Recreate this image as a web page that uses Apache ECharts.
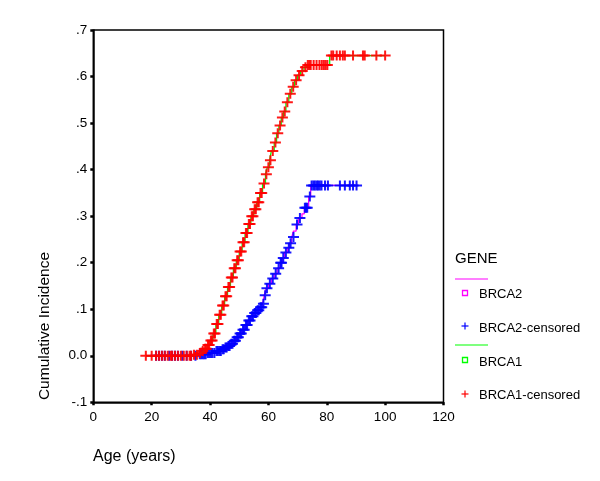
<!DOCTYPE html>
<html>
<head>
<meta charset="utf-8">
<script src="https://cdn.jsdelivr.net/npm/echarts@6/dist/echarts.min.js"></script>
<style>html,body{margin:0;padding:0;background:#fff;}#c{width:600px;height:481px;}</style>
</head>
<body>
<div id="c"></div>
<script>
// Axis ticks
var xTicks = [0, 20, 40, 60, 80, 100, 120];
var yTicks = [-0.1, 0, 0.1, 0.2, 0.3, 0.4, 0.5, 0.6, 0.7];

// BRCA2 cumulative incidence step curve [age, value]
var brca2Curve = [[22,0],[36,0.003],[39,0.006],[42,0.01],[44,0.014],[45,0.018],[46,0.021],[47,0.026],[48,0.032],[49,0.04],[50,0.048],[51,0.056],[52,0.066],[53,0.076],[54,0.085],[55,0.092],[56,0.098],[57,0.104],[58,0.112],[58.6,0.13],[59.2,0.145],[60,0.155],[61,0.166],[62,0.176],[63,0.188],[64,0.2],[64.8,0.21],[65.5,0.222],[66.5,0.232],[67.2,0.242],[68,0.255],[68.6,0.268],[69.5,0.282],[70.3,0.296],[71.5,0.305],[72.3,0.318],[73.8,0.342],[74.5,0.366],[90.2,0.366]];

// BRCA2 censored observations [age, value]
var brca2Censored = [[21.5,0],[22.5,0],[23.5,0],[24.5,0],[26,0],[27,0],[28,0],[29,0],[30.5,0],[32,0],[33.5,0],[35,0],
[36.5,0.003],[37,0.003],[37.5,0.003],[38,0.003],[38.5,0.003],[39.2,0.006],[39.7,0.006],[40.3,0.006],[40.8,0.006],[41.5,0.006],[42.2,0.01],[42.7,0.01],[43.3,0.01],[43.7,0.01],[44.3,0.014],[44.7,0.014],[45.3,0.018],[45.7,0.018],[46.3,0.021],[46.7,0.021],[47.3,0.026],[47.7,0.026],[48.3,0.032],[48.7,0.032],[49.3,0.04],[49.7,0.04],[50.3,0.048],[50.7,0.048],[51.3,0.056],[51.7,0.056],[52.3,0.066],[52.7,0.066],[53.3,0.076],[53.7,0.076],[54.3,0.085],[54.7,0.085],[55.3,0.092],[55.7,0.092],[56.3,0.098],[56.7,0.098],[57.3,0.104],[57.7,0.104],[58.3,0.112],[58.9,0.13],[59.5,0.145],[60.5,0.155],[61.5,0.166],[62.5,0.176],[63.5,0.188],[64.2,0.2],[64.5,0.2],[65.1,0.21],[66,0.222],[67,0.232],[67.6,0.242],[68.6,0.255],[69.8,0.282],[70.8,0.296],[72.5,0.318],[72.9,0.318],[73.3,0.318],[74.2,0.342],
[74.8,0.366],[75.4,0.366],[75.9,0.366],[76.5,0.366],[77,0.366],[77.6,0.366],[78.2,0.366],[79.4,0.366],[80.4,0.366],[84.5,0.366],[86.2,0.366],[87.9,0.366],[89,0.366],[90.2,0.366]];

// BRCA1 cumulative incidence step curve [age, value]
var brca1Curve = [[18,0],[34,0.002],[36,0.006],[37,0.01],[38,0.015],[39,0.023],[40,0.033],[41,0.048],[42,0.068],[43,0.088],[44,0.108],[45,0.128],[46,0.148],[47,0.168],[48,0.188],[49,0.205],[50,0.224],[51,0.244],[52,0.264],[53,0.283],[54,0.3],[55,0.315],[56,0.33],[57,0.35],[58,0.37],[59,0.39],[59.6,0.405],[60.4,0.42],[61,0.44],[62,0.458],[62.8,0.478],[63.6,0.495],[64.4,0.512],[65.2,0.525],[66,0.545],[67,0.563],[68,0.578],[69,0.592],[70,0.603],[71,0.612],[72.2,0.62],[73.2,0.625],[81,0.645],[100,0.645]];

// BRCA1 censored observations [age, value]
var brca1Censored = [[18,0],[20,0],[21.5,0],[22.5,0],[23.5,0],[24.5,0],[25.5,0],[26.5,0],[27,0],[28,0],[29,0],[30,0],[31,0],[32,0],[33,0],[33.5,0],
[34.5,0.002],[35.5,0.002],[36.5,0.006],[37.5,0.01],[38.3,0.015],[38.7,0.015],[39.3,0.023],[39.7,0.023],[40.3,0.033],[40.7,0.033],[41.3,0.048],[41.7,0.048],[42.3,0.068],[42.7,0.068],[43.3,0.088],[43.7,0.088],[44.3,0.108],[44.7,0.108],[45.3,0.128],[45.7,0.128],[46.3,0.148],[46.7,0.148],[47.3,0.168],[47.7,0.168],[48.3,0.188],[48.7,0.188],[49.3,0.205],[49.7,0.205],[50.3,0.224],[50.7,0.224],[51.3,0.244],[51.7,0.244],[52.3,0.264],[52.7,0.264],[53.3,0.283],[53.7,0.283],[54.3,0.3],[54.7,0.3],[55.3,0.315],[55.7,0.315],[56.3,0.33],[56.7,0.33],[57.3,0.35],[57.7,0.35],[58.5,0.37],[59.3,0.39],[60,0.405],[60.7,0.42],[61.5,0.44],[62.4,0.458],[63.2,0.478],[64,0.495],[64.8,0.512],[65.6,0.525],[66.5,0.545],[67.5,0.563],[68.5,0.578],[69.5,0.592],[70.5,0.603],[71.6,0.612],[72.7,0.62],
[73.5,0.625],[74,0.625],[74.5,0.625],[75.5,0.625],[76.5,0.625],[77.5,0.625],[78.3,0.625],[79,0.625],[79.6,0.625],[80.2,0.625],
[81.6,0.645],[82.2,0.645],[83.4,0.645],[84.5,0.645],[85.5,0.645],[86.2,0.645],[89,0.645],[92.4,0.645],[93,0.645],[97,0.645],[100,0.645]];

var legendTitle = 'GENE';
var legendNames = ['BRCA2', 'BRCA2-censored', 'BRCA1', 'BRCA1-censored'];

var plusPath = 'path://M0,4H11V6H0ZM4.5,0H6.5V10H4.5Z';
var FONT = '"Liberation Sans", Arial, sans-serif';

var chart = echarts.init(document.getElementById('c'), null, {renderer: 'canvas'});

function yFmt(v) {
  var r = Math.round(v * 10) / 10;
  if (r === 0) return '0.0';
  return r.toFixed(1).replace('0.', '.');
}

chart.setOption({
  animation: false,
  backgroundColor: '#fff',
  grid: {left: 93.3, right: 156.5, top: 30, bottom: 78.7, show: true, borderColor: '#000', borderWidth: 1.5, backgroundColor: 'transparent'},
  xAxis: {
    type: 'value', min: xTicks[0], max: xTicks[xTicks.length - 1], interval: 20,
    axisLine: {show: true, onZero: false, lineStyle: {color: '#000', width: 1.5}},
    axisTick: {show: true, length: 3, lineStyle: {color: '#000', width: 2.5}},
    axisLabel: {color: '#000', fontSize: 13.5, fontFamily: FONT, margin: 8},
    splitLine: {show: false}
  },
  yAxis: {
    type: 'value', min: yTicks[0], max: yTicks[yTicks.length - 1], interval: 0.1,
    axisLine: {show: true, onZero: false, lineStyle: {color: '#000', width: 1.5}},
    axisTick: {show: true, length: 3, lineStyle: {color: '#000', width: 2.5}},
    axisLabel: {color: '#000', fontSize: 13.5, fontFamily: FONT, margin: 6, formatter: yFmt},
    splitLine: {show: false}
  },
  series: [
    {type: 'line', name: legendNames[0], data: brca2Curve, step: 'end', showSymbol: false, lineStyle: {color: '#ff00ff', width: 1.3}, z: 2},
    {type: 'scatter', name: legendNames[1], data: brca2Censored, symbol: plusPath, symbolSize: [11, 10], itemStyle: {color: '#0000ff', opacity: 0.9}, z: 3},
    {type: 'line', name: legendNames[2], data: brca1Curve, step: 'end', showSymbol: false, lineStyle: {color: '#00ff00', width: 1.3}, z: 4},
    {type: 'scatter', name: legendNames[3], data: brca1Censored, symbol: plusPath, symbolSize: [11, 10], itemStyle: {color: '#ff0000', opacity: 0.9}, z: 5}
  ],
  graphic: [
    {type: 'text', left: 455, top: 251, style: {text: legendTitle, fontSize: 15, fontFamily: FONT, fill: '#000'}},
    {type: 'line', shape: {x1: 455, y1: 279, x2: 488, y2: 279}, style: {stroke: '#ff00ff', lineWidth: 1.2}},
    {type: 'rect', shape: {x: 462.5, y: 290.5, width: 5, height: 5}, style: {stroke: '#ff00ff', fill: 'none', lineWidth: 1.3}},
    {type: 'text', left: 479, top: 288, style: {text: legendNames[0], fontSize: 13, fontFamily: FONT, fill: '#000'}},
    {type: 'line', shape: {x1: 461.5, y1: 326, x2: 468.5, y2: 326}, style: {stroke: '#0000ff', lineWidth: 1.2}},
    {type: 'line', shape: {x1: 465, y1: 322.5, x2: 465, y2: 329.5}, style: {stroke: '#0000ff', lineWidth: 1.2}},
    {type: 'text', left: 479, top: 321.5, style: {text: legendNames[1], fontSize: 13, fontFamily: FONT, fill: '#000'}},
    {type: 'line', shape: {x1: 455, y1: 345, x2: 488, y2: 345}, style: {stroke: '#00ff00', lineWidth: 1.2}},
    {type: 'rect', shape: {x: 462.5, y: 357.5, width: 5, height: 5}, style: {stroke: '#00ff00', fill: 'none', lineWidth: 1.3}},
    {type: 'text', left: 479, top: 355.5, style: {text: legendNames[2], fontSize: 13, fontFamily: FONT, fill: '#000'}},
    {type: 'line', shape: {x1: 461.5, y1: 394, x2: 468.5, y2: 394}, style: {stroke: '#ff0000', lineWidth: 1.2}},
    {type: 'line', shape: {x1: 465, y1: 390.5, x2: 465, y2: 397.5}, style: {stroke: '#ff0000', lineWidth: 1.2}},
    {type: 'text', left: 479, top: 388.5, style: {text: legendNames[3], fontSize: 13, fontFamily: FONT, fill: '#000'}},
    {type: 'text', x: 45, y: 326, rotation: Math.PI / 2, style: {text: 'Cumulative Incidence', fontSize: 15.5, fontFamily: FONT, fill: '#000', align: 'center', verticalAlign: 'middle'}},
    {type: 'text', left: 93, top: 449, style: {text: 'Age (years)', fontSize: 16, fontFamily: FONT, fill: '#000'}}
  ]
});
</script>
</body>
</html>
